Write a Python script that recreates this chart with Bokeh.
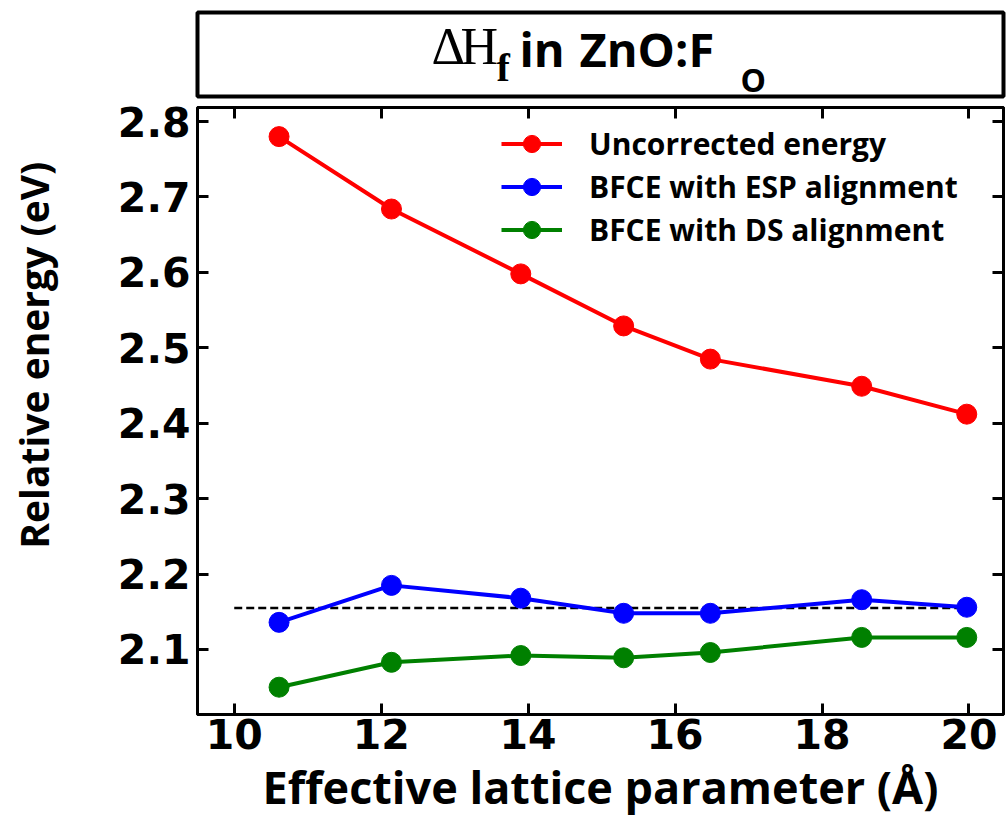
from bokeh.plotting import figure
from bokeh.models import Range1d, FixedTicker, LinearAxis, Legend, LegendItem
from bokeh.layouts import column
from bokeh.core.properties import value
from bokeh.embed import file_html
from bokeh.resources import INLINE

# ---- data ----
lattice = [10.61, 12.14, 13.90, 15.30, 16.48, 18.54, 19.97]
uncorrected = [2.780, 2.684, 2.598, 2.529, 2.485, 2.449, 2.412]
bfce_esp = [2.136, 2.185, 2.168, 2.148, 2.148, 2.166, 2.156]
bfce_ds = [2.050, 2.083, 2.092, 2.089, 2.096, 2.116, 2.116]
ref_x = [10, 20]
ref_y = [2.155, 2.155]
x_ticks = [10, 12, 14, 16, 18, 20]
y_ticks = [2.1, 2.2, 2.3, 2.4, 2.5, 2.6, 2.7, 2.8]
series_labels = ["Uncorrected energy", "BFCE with ESP alignment", "BFCE with DS alignment"]
series_colors = ["#ff0000", "#0000ff", "#008000"]
x_label = "Effective lattice parameter (Å)"
y_label = "Relative energy (eV)"

SANS = "Open Sans"

# ---- title box ----
t = figure(width=1006, height=100, x_range=Range1d(197, 1003), y_range=Range1d(96, 12),
           x_axis_type=None, y_axis_type=None, output_backend="svg", toolbar_location=None,
           min_border_left=197, min_border_right=3, min_border_top=12, min_border_bottom=4)
t.grid.visible = False
t.outline_line_color = "black"
t.outline_line_width = 4
t.background_fill_color = "white"
t.border_fill_color = "white"

def ttext(x, y, s, font, size, style="normal"):
    t.text(x=[x], y=[y], text=[s], text_font=value(font), text_font_size=value(size),
           text_font_style=style, text_baseline="alphabetic", text_align="left",
           text_color="black")

ttext(431, 46, "Δ", "Liberation Serif", "52px")
ttext(460, 46, "H", "Liberation Serif", "52px")
ttext(496, 67, "f", "Liberation Serif", "40px", "bold")
ttext(519, 48, "in", SANS, "47px", "bold")
ttext(579, 48, "ZnO:F", SANS, "47px", "bold")
ttext(740, 79, "O", SANS, "32px", "bold")

# ---- main plot ----
p = figure(width=1006, height=723, x_range=Range1d(9.5, 20.47), y_range=Range1d(2.0138, 2.8186),
           output_backend="svg", toolbar_location=None,
           min_border_left=193, min_border_right=2, min_border_top=7, min_border_bottom=109)
p.grid.visible = False
p.outline_line_color = "black"
p.outline_line_width = 3
p.background_fill_color = "white"
p.border_fill_color = "white"

xa = p.xaxis[0]
ya = p.yaxis[0]
for ax, ticks in ((xa, x_ticks), (ya, y_ticks)):
    ax.ticker = FixedTicker(ticks=ticks)
    ax.major_tick_in = 11
    ax.major_tick_out = 0
    ax.minor_tick_in = 0
    ax.minor_tick_out = 0
    ax.major_tick_line_width = 3
    ax.major_tick_line_color = "black"
    ax.axis_line_width = 3
    ax.axis_line_color = "black"
    ax.major_label_text_font = "DejaVu Sans"
    ax.major_label_text_font_style = "bold"
    ax.major_label_text_font_size = "41px"
    ax.major_label_text_color = "black"
    ax.axis_label_text_font = SANS
    ax.axis_label_text_font_style = "bold"
    ax.axis_label_text_color = "black"

xa.axis_label = x_label
xa.axis_label_text_font_size = "45px"
xa.major_label_standoff = 4
xa.axis_label_standoff = 4

# leading no-break spaces shift the centred label upward, as in the reference
ya.axis_label = "\u00a0" * 11 + y_label
ya.axis_label_text_font_size = "39px"
ya.major_label_standoff = 7
ya.axis_label_standoff = 55

for ticks, side in ((x_ticks, "above"), (y_ticks, "right")):
    ax = LinearAxis(ticker=FixedTicker(ticks=ticks), major_tick_in=11, major_tick_out=0,
                    minor_tick_in=0, minor_tick_out=0, major_tick_line_width=3,
                    axis_line_width=3, major_label_text_font_size="1px",
                    major_label_overrides={tk: "" for tk in ticks},
                    major_label_standoff=0)
    p.add_layout(ax, side)

# dashed reference line
p.line(ref_x, ref_y, line_color="black", line_width=2.5, line_dash="8 4")

items = []
for ys, lab, col in zip([uncorrected, bfce_esp, bfce_ds], series_labels, series_colors):
    lr = p.line(lattice, ys, line_color=col, line_width=4)
    sr = p.scatter(lattice, ys, size=20, fill_color=col, line_color=col, marker="circle")
    items.append(LegendItem(label=lab, renderers=[lr, sr]))

legend = Legend(items=items, location=(304, 463), glyph_width=61, glyph_height=43,
                label_height=43, label_standoff=27, spacing=0, padding=0, margin=0,
                label_text_font=SANS, label_text_font_style="bold",
                label_text_font_size="30px", label_text_color="black",
                border_line_alpha=0, background_fill_alpha=0)
p.add_layout(legend)

layout = column(t, p, spacing=0)
open("out.html", "w").write(file_html(layout, INLINE))
